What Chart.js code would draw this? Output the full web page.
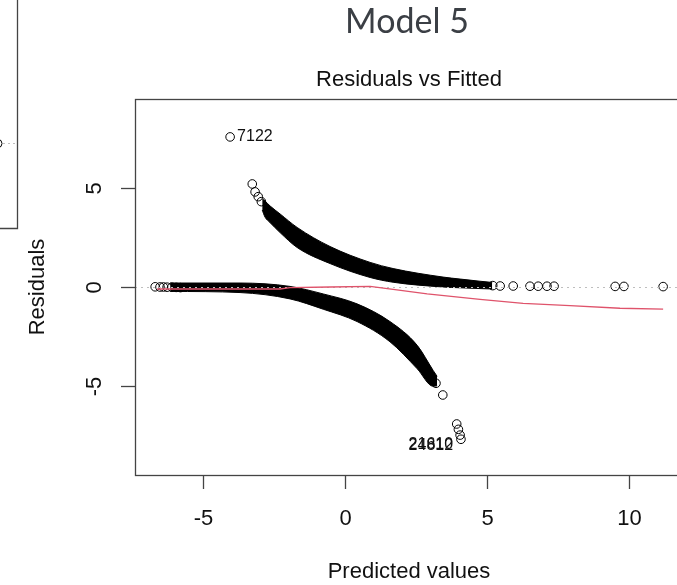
<!DOCTYPE html>
<html>
<head>
<meta charset="utf-8">
<title>Model 5</title>
<script src="https://cdn.jsdelivr.net/npm/chart.js@4.4.1/dist/chart.umd.min.js"></script>
<style>
  html, body { margin: 0; padding: 0; background: #fff; width: 677px; height: 585px; overflow: hidden; }
  #graph { position: absolute; left: 0; top: 0; }
</style>
</head>
<body>
<canvas id="graph" width="760" height="585"></canvas>
<script>
// axis ticks
const xTicks = [-5, 0, 5, 10];
const yTicks = [-5, 0, 5];

// upper branch: dense band edges + sparse points at both ends
const upperBandX   = [-2.92, -2.82, -2.64, -2.29, -1.69, -0.53, 0.88, 1.69, 3.45, 4.05, 4.75, 5.18];
const upperTop     = [4.45, 4.33, 4.08, 3.68, 3.00, 2.04, 1.24, 0.93, 0.50, 0.40, 0.29, 0.23];
const upperBottom  = [3.88, 3.52, 3.24, 2.74, 1.99, 1.18, 0.48, 0.24, 0.00, -0.04, -0.08, -0.10];
const upperTipX    = [-3.27, -3.17, -3.06, -2.95];
const upperTipY    = [5.19, 4.79, 4.55, 4.30];
const upperTailX   = [5.20, 5.46, 5.92, 6.51, 6.80, 7.11, 7.36, 9.51, 9.82, 11.2];
const upperTailY   = [0.07, 0.05, 0.05, 0.04, 0.04, 0.04, 0.04, 0.03, 0.03, 0.02];

// lower branch
const lowerBandX   = [-6.16, -3.70, -1.94, -0.77, 0.42, 1.58, 2.54, 3.10, 3.24];
const lowerTop     = [0.20, 0.20, 0.03, -0.35, -0.85, -1.74, -2.94, -4.20, -4.50];
const lowerBottom  = [-0.22, -0.28, -0.60, -1.12, -1.74, -2.76, -4.12, -5.00, -4.98];
const lowerHeadX   = [-6.69, -6.52, -6.40, -6.27, -6.10, -5.95, -5.80];
const lowerHeadY   = [0.01, 0.00, 0.00, -0.01, -0.01, -0.02, -0.03];
const lowerTailX   = [3.20, 3.44, 3.93, 3.99, 4.05, 4.08];
const lowerTailY   = [-4.85, -5.44, -6.90, -7.17, -7.46, -7.67];

// lone outlier
const outlierX = [-4.05];
const outlierY = [7.56];

// lowess smoother
const smoothX = [-6.62, -2.29, -1.94, -0.53, 0.88, 1.69, 2.89, 4.75, 6.27, 7.92, 9.68, 11.2];
const smoothY = [-0.10, -0.10, -0.03, 0.00, 0.03, -0.12, -0.35, -0.62, -0.82, -0.94, -1.07, -1.11];

// observation ids printed next to extreme residuals
const idLabels = ['7122', '24812', '21610'];
const idX = [-4.05, 4.05, 4.05];
const idY = [7.56, -7.98, -7.92];
const idSide = ['right', 'left', 'left'];

const pts = (xs, ys) => xs.map((x, i) => ({ x: x, y: ys[i] }));

const circle = (xs, ys) => ({
  data: pts(xs, ys),
  pointStyle: 'circle',
  pointRadius: 4.3,
  pointBorderWidth: 1,
  pointBorderColor: '#000',
  pointBackgroundColor: 'rgba(0,0,0,0)',
  showLine: false
});

const edge = (xs, ys, fill) => ({
  data: pts(xs, ys),
  showLine: true,
  pointRadius: 0,
  borderColor: '#000',
  borderWidth: 1,
  backgroundColor: '#000',
  cubicInterpolationMode: 'monotone',
  fill: fill
});

const AXIS = '#444';
const TXT = '#111';
const FONT = '"Liberation Sans", Arial, sans-serif';

const rPlot = {
  id: 'rPlot',
  beforeDatasetDraw(chart, args) {
    // dotted zero line sits above the points, under the smoother
    if (args.index !== 0) return;
    const { ctx, chartArea: a } = chart;
    const y0 = chart.scales.y.getPixelForValue(0);
    ctx.save();
    ctx.strokeStyle = '#bebebe';
    ctx.lineWidth = 1;
    ctx.setLineDash([2, 4]);
    ctx.beginPath();
    ctx.moveTo(a.left, y0 + 0.5);
    ctx.lineTo(a.right, y0 + 0.5);
    ctx.stroke();
    ctx.restore();
  },
  afterDraw(chart) {
    const { ctx, chartArea: a } = chart;
    const sx = chart.scales.x, sy = chart.scales.y;
    ctx.save();

    // slide heading
    ctx.fillStyle = '#3b3f45';
    ctx.font = '34px Lato, "Open Sans", sans-serif';
    ctx.textAlign = 'center';
    ctx.textBaseline = 'alphabetic';
    ctx.fillText('Model 5', 407, 33);

    // edge of the neighbouring panel
    ctx.strokeStyle = AXIS;
    ctx.lineWidth = 1.3;
    ctx.beginPath();
    ctx.moveTo(17.5, 0);
    ctx.lineTo(17.5, 228.5);
    ctx.lineTo(0, 228.5);
    ctx.stroke();
    ctx.strokeStyle = '#bebebe';
    ctx.lineWidth = 1;
    ctx.setLineDash([2, 3]);
    ctx.beginPath();
    ctx.moveTo(3, 143.5);
    ctx.lineTo(17, 143.5);
    ctx.stroke();
    ctx.setLineDash([]);
    ctx.strokeStyle = '#000';
    ctx.beginPath();
    ctx.arc(-2, 143.5, 4, 0, Math.PI * 2);
    ctx.stroke();

    // plot box
    ctx.strokeStyle = AXIS;
    ctx.lineWidth = 1.3;
    ctx.strokeRect(a.left + 0.5, a.top + 0.5, a.right - a.left, a.bottom - a.top);

    // x axis
    ctx.fillStyle = TXT;
    ctx.font = '22px ' + FONT;
    ctx.textAlign = 'center';
    ctx.textBaseline = 'middle';
    xTicks.forEach(v => {
      const px = Math.round(sx.getPixelForValue(v)) + 0.5;
      ctx.beginPath();
      ctx.moveTo(px, a.bottom);
      ctx.lineTo(px, a.bottom + 14);
      ctx.stroke();
      ctx.fillText(String(v), px, a.bottom + 44);
    });
    ctx.fillText('Predicted values', (a.left + a.right) / 2, 572);

    // y axis
    yTicks.forEach(v => {
      const py = Math.round(sy.getPixelForValue(v)) + 0.5;
      ctx.beginPath();
      ctx.moveTo(a.left - 14, py);
      ctx.lineTo(a.left, py);
      ctx.stroke();
      ctx.save();
      ctx.translate(95, py);
      ctx.rotate(-Math.PI / 2);
      ctx.fillText(String(v), 0, 0);
      ctx.restore();
    });
    ctx.save();
    ctx.translate(38, (a.top + a.bottom) / 2);
    ctx.rotate(-Math.PI / 2);
    ctx.fillText('Residuals', 0, 0);
    ctx.restore();

    // caption
    ctx.textBaseline = 'alphabetic';
    ctx.fillText('Residuals vs Fitted', (a.left + a.right) / 2, 86);

    // id labels
    ctx.font = '16px ' + FONT;
    ctx.textBaseline = 'middle';
    idLabels.forEach((t, i) => {
      const px = sx.getPixelForValue(idX[i]);
      const py = sy.getPixelForValue(idY[i]);
      if (idSide[i] === 'right') {
        ctx.textAlign = 'left';
        ctx.fillText(t, px + 7, py);
      } else {
        ctx.textAlign = 'right';
        ctx.fillText(t, px - 7, py);
      }
    });
    ctx.restore();
  }
};

new Chart(document.getElementById('graph'), {
  type: 'scatter',
  data: {
    datasets: [
      {
        data: pts(smoothX, smoothY),
        showLine: true,
        pointRadius: 0,
        borderColor: '#df536b',
        borderWidth: 1.3,
        tension: 0,
        fill: false
      },
      circle(outlierX, outlierY),
      circle(upperTipX, upperTipY),
      circle(upperTailX, upperTailY),
      circle(lowerHeadX, lowerHeadY),
      circle(lowerTailX, lowerTailY),
      edge(upperBandX, upperTop, false),
      edge(upperBandX, upperBottom, '-1'),
      edge(lowerBandX, lowerTop, false),
      edge(lowerBandX, lowerBottom, '-1')
    ]
  },
  options: {
    responsive: false,
    animation: false,
    devicePixelRatio: 1,
    layout: { padding: { left: 135, top: 99, right: 77, bottom: 110 } },
    scales: {
      x: { type: 'linear', min: -7.4, max: 11.9, display: false },
      y: { type: 'linear', min: -9.47, max: 9.47, display: false }
    },
    plugins: {
      legend: { display: false },
      tooltip: { enabled: false }
    }
  },
  plugins: [rPlot]
});
</script>
</body>
</html>
